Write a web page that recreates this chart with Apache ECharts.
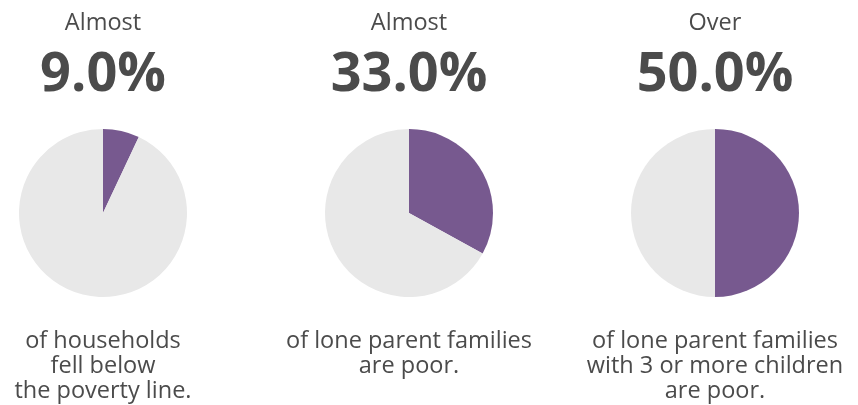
<!DOCTYPE html>
<html>
<head>
<meta charset="utf-8">
<script src="https://cdn.jsdelivr.net/npm/echarts@6/dist/echarts.min.js"></script>
<style>
  html, body { margin: 0; padding: 0; background: #fff; }
  #chart { width: 858px; height: 405px; }
</style>
</head>
<body>
<div id="chart"></div>
<script>
// values (share of the purple slice)
var prefixes = ['Almost', 'Almost', 'Over'];
var headlines = ['9.0%', '33.0%', '50.0%'];
var shares = [7, 33, 50];
var captions = [
  'of households\nfell below\nthe poverty line.',
  'of lone parent families\nare poor.',
  'of lone parent families\nwith 3 or more children\nare poor.'
];
var centersX = [103, 409, 715];

var purple = '#77598f';
var grey = '#e8e8e8';
var ink = '#4b4b4b';
var font = '"Open Sans", sans-serif';

var chart = echarts.init(document.getElementById('chart'));

var series = [];
var graphics = [];
shares.forEach(function (v, i) {
  series.push({
    type: 'pie',
    center: [centersX[i], 213],
    radius: 84,
    startAngle: 90,
    clockwise: true,
    silent: true,
    label: { show: false },
    labelLine: { show: false },
    itemStyle: { borderWidth: 0 },
    data: [
      { value: v, itemStyle: { color: purple } },
      { value: 100 - v, itemStyle: { color: grey } }
    ]
  });
  graphics.push({
    type: 'text', x: centersX[i], y: 23,
    style: { text: prefixes[i], fill: ink, font: '23.5px ' + font, textAlign: 'center', textVerticalAlign: 'middle' }
  });
  graphics.push({
    type: 'text', x: centersX[i], y: 76,
    style: { text: headlines[i], fill: ink, font: 'bold 54px ' + font, textAlign: 'center', textVerticalAlign: 'middle' }
  });
  graphics.push({
    type: 'text', x: centersX[i], y: 329,
    style: { text: captions[i], fill: ink, font: '23.5px ' + font, lineHeight: 25, textAlign: 'center', textVerticalAlign: 'top' }
  });
});

chart.setOption({
  animation: false,
  backgroundColor: '#fff',
  series: series,
  graphic: graphics
});
</script>
</body>
</html>
